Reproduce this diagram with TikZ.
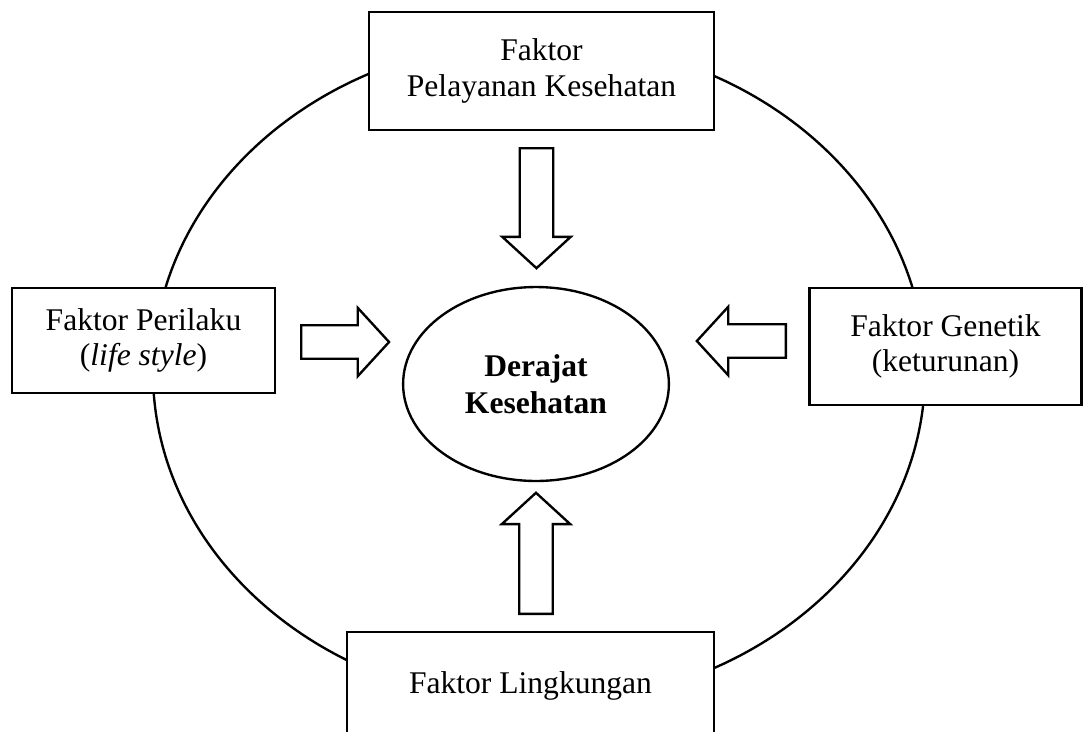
\documentclass[tikz,border=0pt]{standalone}
\usepackage{fontspec}
\setmainfont{Liberation Serif}
\usetikzlibrary{shapes.geometric, shapes.arrows}

\begin{document}
\begin{tikzpicture}[
x=0.38pt, y=-0.38pt,
line width=0.9pt,
factor/.style={rectangle, draw, fill=white, align=center, font=\fontsize{12}{13.5}\selectfont},
core/.style={ellipse, draw, fill=white, inner sep=0pt, align=center, font=\fontsize{12}{14}\selectfont\bfseries},
blockarrow/.style={single arrow, draw, fill=white, inner xsep=0pt, inner ysep=5.9pt,
  single arrow head extend=6.65pt, single arrow tip angle=95, minimum height=#1}
]
\path[use as bounding box, clip] (0,0) rectangle (1083,731);

% outer ring
\draw (539,372) ellipse [x radius=146.7pt, y radius=126.2pt];

\node[core, minimum width=101pt, minimum height=73.7pt] (health) at (536,384) {Derajat\\Kesehatan};

\node[factor, minimum width=131.1pt, minimum height=44.8pt] (service) at (541.5,71) {Faktor\\Pelayanan Kesehatan};
\node[factor, minimum width=99.9pt, minimum height=39.9pt] (behaviour) at (143.5,340.5) {Faktor Perilaku\\(\textit{life style})};
\node[factor, minimum width=103.4pt, minimum height=44.5pt] (genetic) at (945.5,346.5) {Faktor Genetik\\(keturunan)};
\node[factor, minimum width=139.5pt, minimum height=41pt] (environment) at (530.5,686) {Faktor Lingkungan};

\node[blockarrow=45.6pt, rotate=-90, anchor=tail] (fromservice) at (536.5,147) {};
\node[blockarrow=46pt, rotate=90, anchor=tail] (fromenvironment) at (536,615) {};
\node[blockarrow=33.4pt, anchor=tail] (frombehaviour) at (300,342) {};
\node[blockarrow=33.8pt, rotate=180, anchor=tail] (fromgenetic) at (787,341) {};

\end{tikzpicture}
\end{document}
